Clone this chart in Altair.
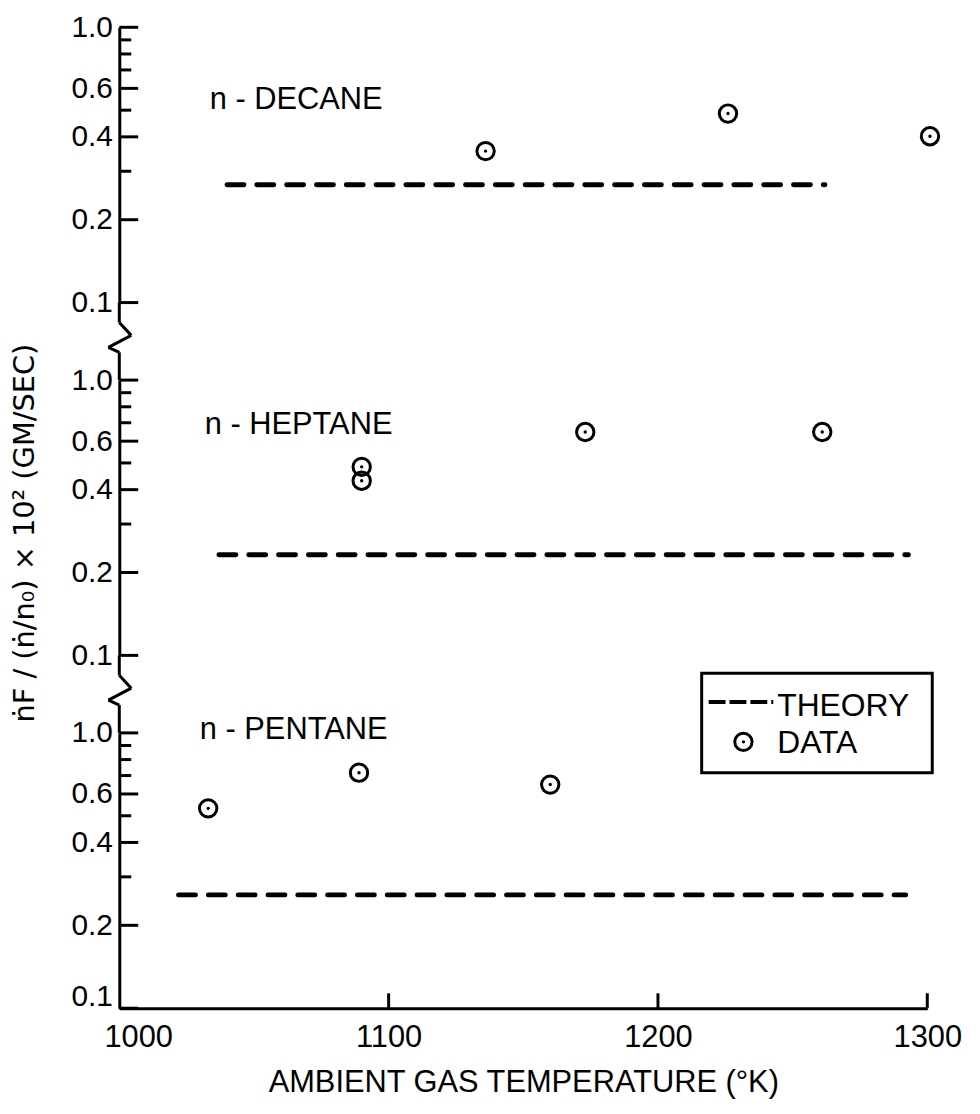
import altair as alt
import pandas as pd

FONT = "Liberation Sans"
TITLE_FONT = "DejaVu Sans"
W, H = 813, 277
GAP = 78

# ---- axis values ----
x_domain = [1000, 1300]
x_tick_values = [1000, 1100, 1200, 1300]
x_inner_ticks = [1100, 1200, 1300]
y_domain = [0.1, 1.0]
y_major = [1.0, 0.6, 0.4, 0.2, 0.1]
y_minor = [0.9, 0.8, 0.7, 0.5, 0.3]

# ---- data ----
fuels = ["n - DECANE", "n - HEPTANE", "n - PENTANE"]

decane_T = [1136, 1226, 1301]
decane_v = [0.355, 0.486, 0.402]
decane_theory_T = [1040, 1262]
decane_theory_v = [0.268, 0.268]

heptane_T = [1090, 1090, 1173, 1261]
heptane_v = [0.484, 0.431, 0.648, 0.648]
heptane_theory_T = [1037, 1293]
heptane_theory_v = [0.232, 0.232]

pentane_T = [1033, 1089, 1160]
pentane_v = [0.532, 0.717, 0.649]
pentane_theory_T = [1022, 1292]
pentane_theory_v = [0.258, 0.258]

legend_labels = ["THEORY", "DATA"]
y_title = "ṅF  /  (ṅ/n₀)  ×  10²  (GM/SEC)"
x_title = "AMBIENT GAS TEMPERATURE (°K)"

one = pd.DataFrame({"k": [0]})

CIRCLE_SIZE = 306
DOT_SIZE = 12


def xenc(show_axis):
    if show_axis:
        axis = alt.Axis(values=x_tick_values, format="d", ticks=False, grid=False,
                        domainWidth=3, domainColor="black", labelFont=FONT,
                        labelFontSize=31, labelColor="black", labelPadding=15,
                        labelFlush=False, labelOverlap=False,
                        labelOffset={"condition": {"test": "datum.value == 1000", "value": 19},
                                     "value": 0},
                        title=x_title, titleFont=FONT, titleFontSize=31,
                        titleFontWeight="normal", titleColor="black", titlePadding=15)
    else:
        axis = None
    return alt.X("T:Q", scale=alt.Scale(domain=x_domain, nice=False, zero=False), axis=axis)


def yenc(bottom=False):
    extra = {}
    if bottom:
        extra["labelOffset"] = {"condition": {"test": "datum.value <= 0.1", "value": -12},
                                "value": 0}
    return alt.Y("v:Q", scale=alt.Scale(type="log", domain=y_domain, nice=False),
                 axis=alt.Axis(values=y_major, format=".1f", ticks=False, grid=False,
                               domainWidth=3, domainColor="black", labelFont=FONT,
                               labelFontSize=30, labelColor="black", labelPadding=7,
                               labelOverlap=False, labelFlush=False, title=None, **extra))


def seg(x1, y1, x2, y2, width=3):
    return alt.Chart(one).mark_rule(strokeWidth=width, color="black").encode(
        x=alt.value(x1), y=alt.value(y1), x2=alt.value(x2), y2=alt.value(y2))


def panel(name, pT, pv, tT, tv, label_xy, bottom=False, extra=None):
    show_x = bottom
    pts = pd.DataFrame({"T": pT, "v": pv})
    th = pd.DataFrame({"T": tT, "v": tv})
    major = pd.DataFrame({"v": y_major})
    minor = pd.DataFrame({"v": y_minor})
    Y = lambda: yenc(bottom)

    layers = [
        alt.Chart(major).mark_rule(strokeWidth=3, color="black").encode(
            y=Y(), x=alt.value(0), x2=alt.value(19)),
        alt.Chart(minor).mark_rule(strokeWidth=3, color="black").encode(
            y=Y(), x=alt.value(0), x2=alt.value(12)),
        alt.Chart(th).mark_line(color="black", strokeWidth=5, strokeDash=[17, 13],
                                strokeCap="round").encode(x=xenc(show_x), y=Y()),
        alt.Chart(pts).mark_point(shape="circle", size=CIRCLE_SIZE, strokeWidth=3, color="black",
                                  filled=False, opacity=1).encode(x=xenc(show_x), y=Y()),
        alt.Chart(pts).mark_point(shape="circle", size=DOT_SIZE, color="black",
                                  filled=True, opacity=1).encode(x=xenc(show_x), y=Y()),
        alt.Chart(pd.DataFrame({"name": [name]})).mark_text(
            align="left", baseline="middle", font=FONT, fontSize=31, color="black").encode(
            x=alt.value(label_xy[0]), y=alt.value(label_xy[1]), text="name:N"),
    ]
    if not bottom:
        # axis continues through the gap with a break symbol
        layers += [
            seg(0, H, 0, H + 20),
            seg(0, H + 20, 12, H + 33),
            seg(12, H + 33, -11, H + 45),
            seg(-11, H + 45, 0, H + 50),
            seg(0, H + 50, 0, H + GAP),
        ]
    else:
        xt = pd.DataFrame({"T": x_inner_ticks})
        layers.append(alt.Chart(xt).mark_rule(strokeWidth=3, color="black").encode(
            x=xenc(show_x), y=alt.value(H), y2=alt.value(H - 15)))
    if extra:
        layers += extra
    return alt.layer(*layers).properties(width=W, height=H)


# y-axis title (in the middle panel)
ytitle = alt.Chart(pd.DataFrame({"t": [y_title]})).mark_text(
    angle=270, align="center", baseline="middle", font=TITLE_FONT, fontSize=29,
    color="black").encode(x=alt.value(-95), y=alt.value(154), text="t:N")

# legend box (in the bottom panel)
legend = [
    alt.Chart(one).mark_rect(fillOpacity=0, stroke="black", strokeWidth=3).encode(
        x=alt.value(586), x2=alt.value(818), y=alt.value(-60), y2=alt.value(40)),
    alt.Chart(one).mark_rule(strokeWidth=4, color="black", strokeDash=[17, 4]).encode(
        x=alt.value(593), x2=alt.value(658), y=alt.value(-31), y2=alt.value(-31)),
    alt.Chart(one).mark_point(shape="circle", size=CIRCLE_SIZE, strokeWidth=3, color="black",
                              filled=False, opacity=1).encode(
        x=alt.value(628), y=alt.value(9)),
    alt.Chart(one).mark_point(shape="circle", size=DOT_SIZE, color="black", filled=True,
                              opacity=1).encode(x=alt.value(628), y=alt.value(9)),
    alt.Chart(pd.DataFrame({"lab": [legend_labels[0]]})).mark_text(
        align="left", baseline="middle", font=FONT, fontSize=32, color="black").encode(
        x=alt.value(662), y=alt.value(-27), text="lab:N"),
    alt.Chart(pd.DataFrame({"lab": [legend_labels[1]]})).mark_text(
        align="left", baseline="middle", font=FONT, fontSize=32, color="black").encode(
        x=alt.value(662), y=alt.value(10), text="lab:N"),
]

top = panel(fuels[0], decane_T, decane_v, decane_theory_T, decane_theory_v, (91, 73))
mid = panel(fuels[1], heptane_T, heptane_v, heptane_theory_T, heptane_theory_v, (86, 45),
            extra=[ytitle])
bot = panel(fuels[2], pentane_T, pentane_v, pentane_theory_T, pentane_theory_v, (81, -3),
            bottom=True, extra=legend)

chart = alt.vconcat(top, mid, bot, spacing=GAP, bounds="flush").properties(
    padding={"left": 2, "top": 1, "right": 10, "bottom": 5},
    background="white",
).configure_view(strokeWidth=0, strokeOpacity=0)

chart.save("out.html", embed_options={"renderer": "svg", "actions": False})
